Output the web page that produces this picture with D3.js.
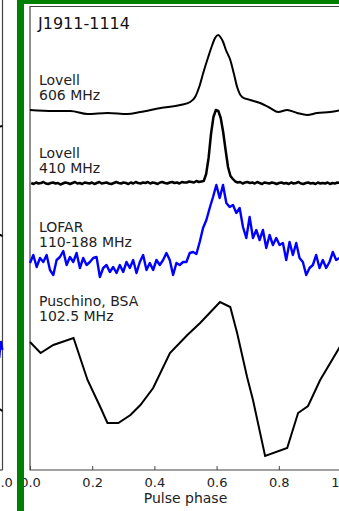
<!DOCTYPE html>
<html>
<head>
<meta charset="utf-8">
<script src="https://cdn.jsdelivr.net/npm/d3@7"></script>
<style>
  html, body { margin: 0; padding: 0; background: #fff; }
  svg { display: block; font-family: "DejaVu Sans", sans-serif; }
</style>
</head>
<body>
<svg id="chart" width="339" height="511"></svg>
<script>
// ---------------- DATA ----------------
const title = "J1911-1114";
const xTicks = [0.0, 0.2, 0.4, 0.6, 0.8, 1.0];
const xLabel = "Pulse phase";
const profileLabels = [
  ["Lovell", "606 MHz"],
  ["Lovell", "410 MHz"],
  ["LOFAR", "110-188 MHz"],
  ["Puschino, BSA", "102.5 MHz"]
];
// Lovell 606 MHz: [phase, intensity + offset]
const lovell606 = [
  [0.000,36.0],[0.075,35.9],[0.130,35.9],[0.185,35.6],[0.250,35.7],[0.313,35.6],
  [0.355,35.8],[0.420,36.2],[0.483,36.5],[0.515,36.8],[0.531,37.3],[0.544,38.3],
  [0.557,39.7],[0.573,41.3],[0.586,42.5],[0.595,43.2],[0.605,43.5],[0.612,43.3],
  [0.621,42.8],[0.630,42.0],[0.644,41.0],[0.655,39.7],[0.666,38.3],[0.682,37.3],
  [0.708,37.0],[0.740,36.7],[0.772,36.2],[0.798,35.8],[0.827,36.0],[0.859,35.7],
  [0.891,35.5],[0.923,35.7],[0.965,35.8],[1.000,36.0]
];
// Lovell 410 MHz: uniform phase bins
const lovell410 = [
  28.7,28.6,28.75,28.65,28.7,28.8,28.65,28.6,28.7,28.75,28.65,28.7,28.55,28.65,28.75,28.7,
  28.6,28.7,28.8,28.65,28.7,28.6,28.75,28.7,28.65,28.75,28.6,28.7,28.8,28.65,28.7,28.75,
  28.65,28.6,28.7,28.8,28.7,28.65,28.75,28.7,28.6,28.75,28.65,28.8,28.7,28.65,28.75,28.7,
  28.8,28.65,28.75,28.7,28.6,28.75,28.8,28.7,28.65,28.75,28.8,28.7,28.75,28.65,28.8,28.75,
  28.75,28.85,28.8,28.75,28.9,28.8,28.85,
  28.9,29.6,31.2,33.6,35.3,36.0,35.9,35.2,33.8,32.0,30.3,29.4,29.1,
  28.85,28.75,28.8,28.65,28.75,28.8,28.7,28.75,28.65,28.8,28.7,28.6,28.75,28.7,28.65,28.75,
  28.7,28.6,28.7,28.75,28.65,28.7,28.6,28.75,28.65,28.7,28.8,28.65,28.6,28.7,28.75,28.65,
  28.7,28.6,28.75,28.65,28.7,28.65,28.75,28.6,28.7,28.65,28.75,28.7
];
// LOFAR 110-188 MHz: uniform phase bins (step 0.0107)
const lofar = [
  20.7,21.5,20.3,21.2,20.8,21.5,20.0,19.5,21.0,21.3,21.9,20.5,21.3,20.8,21.7,20.2,
  21.2,20.5,20.8,21.2,21.3,19.3,20.2,20.5,19.8,20.3,19.7,20.5,19.8,20.8,20.2,21.0,
  19.7,20.8,21.5,20.0,20.7,20.0,21.0,20.5,21.0,21.7,21.0,19.5,20.7,20.5,20.8,20.8,
  21.7,21.8,21.6,22.8,24.2,25.0,26.2,27.3,28.5,27.2,28.5,26.7,26.3,26.5,25.7,26.2,
  24.3,23.2,25.3,23.2,24.0,23.0,24.0,22.2,23.5,22.5,23.2,22.5,22.7,21.0,22.8,21.5,
  22.7,21.2,20.8,19.5,20.2,20.5,21.5,20.2,21.0,20.2,20.8,21.8,21.0,21.2
];
const lofarStep = 0.0107;
// Puschino BSA 102.5 MHz: [phase, intensity + offset]
const puschino = [
  [0.000,12.8],[0.034,11.7],[0.075,12.5],[0.140,13.2],[0.185,9.0],[0.226,6.3],
  [0.249,4.7],[0.284,4.7],[0.323,5.5],[0.355,6.5],[0.396,8.2],[0.450,11.7],
  [0.506,13.5],[0.547,14.7],[0.611,16.8],[0.644,16.3],[0.666,13.7],[0.698,9.3],
  [0.717,7.0],[0.756,1.4],[0.827,2.2],[0.862,5.7],[0.894,6.4],[0.933,9.0],
  [0.994,12.2],[1.000,12.5]
];
// neighbouring panel (cut off on the left): ends of its profiles
const neighbourBlack = [
  [[0.985,34.3],[1.000,34.4]],
  [[0.985,23.6],[1.000,23.4]],
  [[0.985,6.2],[1.000,5.9]]
];
const neighbourBlue = [[0.975,13.9],[0.980,11.6],[0.985,13.5],[0.990,11.2],[0.995,12.9],[1.000,12.0]];

// ---------------- DRAW ----------------
const svg = d3.select("#chart");
const x = d3.scaleLinear().domain([0, 1]).range([30, 341]);
const xN = d3.scaleLinear().domain([0, 1]).range([2.5 - 311, 2.5]);
const y = d3.scaleLinear().domain([0, 46.3]).range([470, 7]);

// neighbour panel frame
svg.append("line").attr("x1", 2.5).attr("x2", 2.5).attr("y1", -2).attr("y2", 470)
  .attr("stroke", "#444").attr("stroke-width", 1.2);
svg.append("line").attr("x1", -5).attr("x2", 2.5).attr("y1", 470).attr("y2", 470)
  .attr("stroke", "#444").attr("stroke-width", 1.2);
const lineN = d3.line().x(d => xN(d[0])).y(d => y(d[1]));
neighbourBlack.forEach(seg => svg.append("path").attr("d", lineN(seg))
  .attr("fill", "none").attr("stroke", "#000").attr("stroke-width", 2));
svg.append("path").attr("d", lineN(neighbourBlue)).attr("fill", "none")
  .attr("stroke", "#0000ff").attr("stroke-width", 2);
svg.append("text").attr("x", xN(1)).attr("y", 487).attr("text-anchor", "middle")
  .attr("font-size", 13).attr("fill", "#222").text(d3.format(".1f")(1));

// main frame
svg.append("path")
  .attr("d", `M${x(1)+5},6.5 H30 V470 H${x(1)+5}`)
  .attr("fill", "none").attr("stroke", "#444").attr("stroke-width", 1.2);

// x axis
const xAxis = d3.axisBottom(x).tickValues(xTicks).tickFormat(d3.format(".1f"))
  .tickSizeInner(-4).tickSizeOuter(0).tickPadding(8);
const gx = svg.append("g").attr("transform", "translate(0,470)").call(xAxis);
gx.select(".domain").remove();
gx.selectAll(".tick line").attr("stroke", "#444");
gx.selectAll(".tick text").attr("font-size", 13).attr("fill", "#222")
  .attr("font-family", "DejaVu Sans, sans-serif");
svg.append("text").attr("x", (x(0) + x(1)) / 2).attr("y", 503)
  .attr("text-anchor", "middle").attr("font-size", 14).attr("fill", "#222").text(xLabel);

// profiles
const lineXY = d3.line().x(d => x(d[0])).y(d => y(d[1]));
svg.append("path").attr("d", lineXY.curve(d3.curveMonotoneX)(lovell606))
  .attr("fill", "none").attr("stroke", "#000").attr("stroke-width", 2);
const l410 = lovell410.map((v, i) => [(i + 0.5) / lovell410.length, v]);
svg.append("path").attr("d", d3.line().x(d => x(d[0])).y(d => y(d[1]))(l410))
  .attr("fill", "none").attr("stroke", "#000").attr("stroke-width", 2.5)
  .attr("stroke-linejoin", "round");
const lof = lofar.map((v, i) => [i * lofarStep, v]);
svg.append("path").attr("d", d3.line().x(d => x(d[0])).y(d => y(d[1]))(lof))
  .attr("fill", "none").attr("stroke", "#0000ff").attr("stroke-width", 2.4)
  .attr("stroke-linejoin", "round");
svg.append("path").attr("d", d3.line().x(d => x(d[0])).y(d => y(d[1]))(puschino))
  .attr("fill", "none").attr("stroke", "#000").attr("stroke-width", 2);

// labels
const labelBase = [85, 158, 232, 306];
profileLabels.forEach((lines, k) => {
  lines.forEach((t, j) => {
    svg.append("text").attr("x", 39).attr("y", labelBase[k] + j * 15)
      .attr("font-size", 14).attr("fill", "#222").text(t);
  });
});
svg.append("text").attr("x", 38).attr("y", 29).attr("font-size", 16)
  .attr("fill", "#111").text(title);

// green highlight frame
svg.append("rect").attr("x", 17).attr("y", 0).attr("width", 7).attr("height", 511).attr("fill", "#008000");
svg.append("rect").attr("x", 17).attr("y", 0).attr("width", 322).attr("height", 4).attr("fill", "#008000");
</script>
</body>
</html>
